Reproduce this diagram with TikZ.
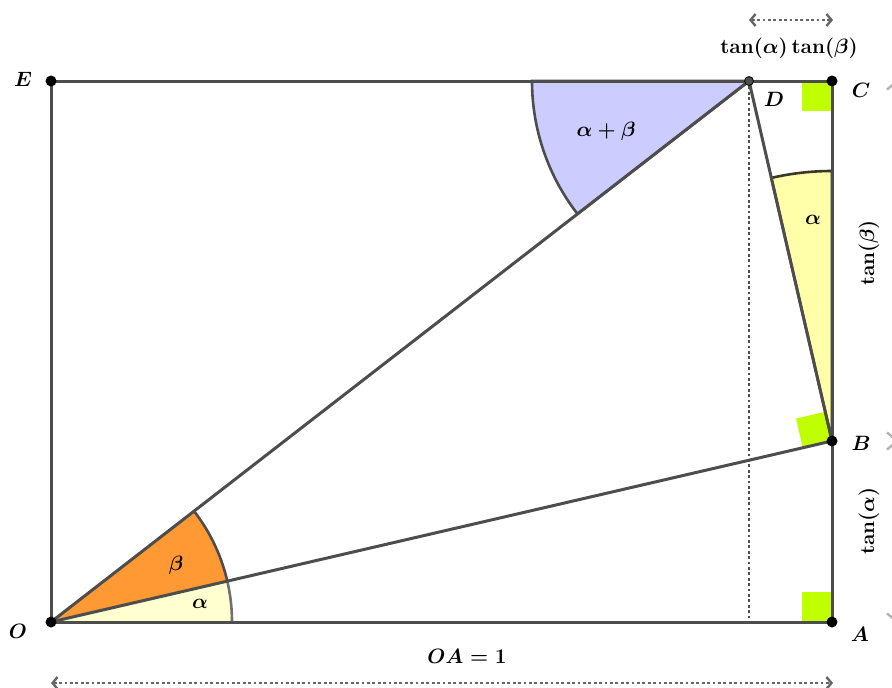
\documentclass[tikz,border=0pt]{standalone}
\usepackage{amsmath}
\usetikzlibrary{arrows.meta,calc}
\definecolor{edge}{HTML}{4D4D4D}
\definecolor{lime}{HTML}{BFFF00}
\definecolor{yel}{HTML}{FFFFAA}
\definecolor{paleyel}{HTML}{FFFFD0}
\definecolor{orng}{HTML}{FF9933}
\definecolor{lav}{HTML}{CCCCFF}
\tikzset{
  seg/.style={draw=edge,line width=3pt},
  pt/.style={circle,fill=black,inner sep=0pt,minimum size=11pt},
  lbl/.style={font=\boldmath\fontsize{19.5}{23}\selectfont},
  dots/.style={line width=2.8pt,dash pattern=on 2.8pt off 2.6pt},
  dim/.style={draw=gray!80!black,dots,
     {Straight Barb[length=5pt,width=12pt,line width=2.4pt]}-{Straight Barb[length=5pt,width=12pt,line width=2.4pt]}},
  sect/.style={line width=2.6pt,draw=edge},
  rightang/.style={fill=lime}
}
\begin{document}
\begin{tikzpicture}[x=1pt,y=-1pt]
\useasboundingbox (0,0) rectangle (892,688);
% coordinates
\coordinate (O) at (51,622);
\coordinate (A) at (832,622);
\coordinate (B) at (832,441);
\coordinate (C) at (832,81);
\coordinate (E) at (51,81);
\coordinate (D) at (749,81);
\coordinate (Dfoot) at (749,622);
% right angle markers
\fill[rightang] (802,592) rectangle (832,622);
\fill[rightang] (802,81) rectangle (832,111);
\coordinate (u) at ($(B)!30pt!(O)$);
\coordinate (v) at ($(B)!30pt!(D)$);
\fill[rightang] (B) -- (u) -- ($(u)+(v)-(B)$) -- (v) -- cycle;
% angle sectors at O
\fill[paleyel] (O) -- ++(0:181) arc[start angle=0,end angle=-13.04,radius=181] -- cycle;
\draw[sect,draw=edge!80] ($(O)+(181,0)$) arc[start angle=0,end angle=-13.04,radius=181];
\fill[orng] (O) -- ++(-13.04:181) arc[start angle=-13.04,end angle=-37.78,radius=181] -- cycle;
\draw[sect] ($(O)+(-13.04:181)$) arc[start angle=-13.04,end angle=-37.78,radius=181];
% angle sector at D
\filldraw[fill=lav,sect] (D) -- ++(180:217) arc[start angle=180,end angle=142.22,radius=217] -- cycle;
% angle sector at B
\filldraw[fill=yel,sect,draw=edge!90!yellow!60!black] (B) -- ++(-90:270) arc[start angle=-90,end angle=-103,radius=270] -- cycle;
% main segments
\draw[seg] (E) -- (C) -- (A) -- (O) -- cycle;
\draw[seg] (O) -- (D);
\draw[seg] (O) -- (B);
\draw[seg] (B) -- (D);
\draw[edge,dots] (D) -- (Dfoot);
% dimension arrows
\coordinate (t1) at (749,20); \coordinate (t2) at (833,20);
\draw[dim] (t1) -- (t2);
\coordinate (b1) at (51,683); \coordinate (b2) at (833,683);
\draw[dim] (b1) -- (b2);
\coordinate (r1) at (893,83); \coordinate (r2) at (893,439);
\coordinate (r3) at (893,443); \coordinate (r4) at (893,620);
\draw[dim,draw=gray!60] (r1) -- (r2);
\draw[dim,draw=gray!60] (r3) -- (r4);
% points
\node[pt] (nO) at (O) {};
\node[pt] (nA) at (A) {};
\node[pt] (nB) at (B) {};
\node[pt] (nC) at (C) {};
\node[pt] (nE) at (E) {};
\node[circle,fill=edge,draw=black,line width=0.8pt,inner sep=0pt,minimum size=9pt] (nD) at (D) {};
% labels
\node[lbl] (lE) at (23,79) {$E$};
\node[lbl] (lO) at (18,631) {$O$};
\node[lbl] (lA) at (860,634) {$A$};
\node[lbl] (lB) at (861,443) {$B$};
\node[lbl] (lC) at (861,90) {$C$};
\node[lbl] (lD) at (774,99) {$D$};
\node[lbl] (lOA) at (467,656) {$OA=1$};
\node[lbl] (ltt) at (789,48) {$\tan(\alpha)\tan(\beta)$};
\node[lbl,rotate=90] (ltb) at (869,253) {$\tan(\beta)$};
\node[lbl,rotate=90] (lta) at (869,521) {$\tan(\alpha)$};
\node[lbl] (la1) at (200,604) {$\alpha$};
\node[lbl] (lb1) at (176,565) {$\beta$};
\node[lbl] (lab) at (606,131) {$\alpha+\beta$};
\node[lbl] (la2) at (813,220) {$\alpha$};
\end{tikzpicture}
\end{document}
